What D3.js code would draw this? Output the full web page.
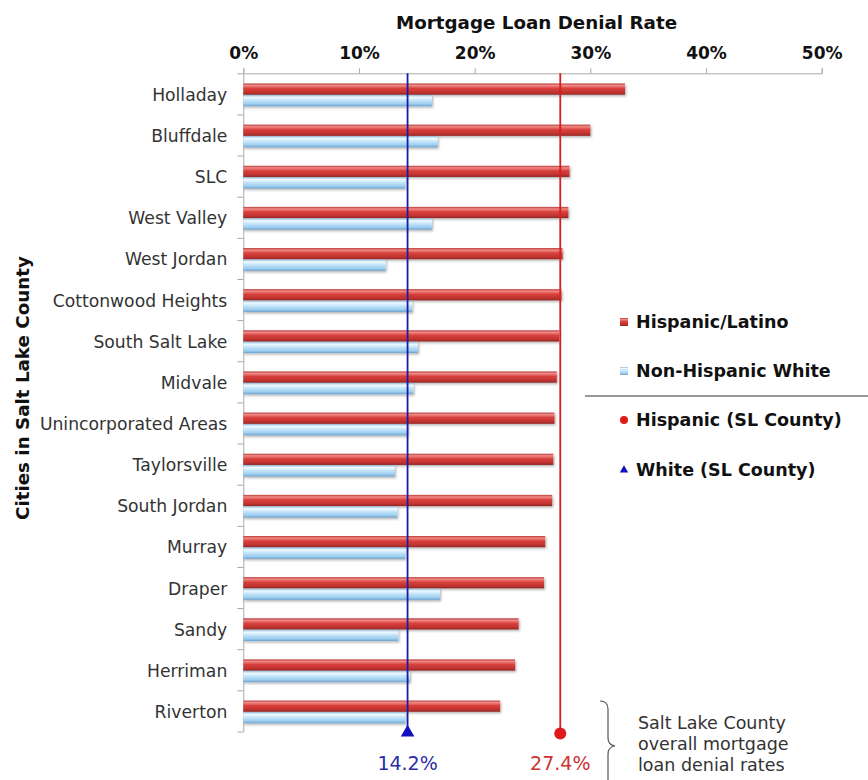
<!DOCTYPE html>
<html>
<head>
<meta charset="utf-8">
<script src="https://cdn.jsdelivr.net/npm/d3@7"></script>
<style>
  html, body { margin: 0; padding: 0; background: #fff; }
  svg { display: block; font-family: "DejaVu Sans", Verdana, sans-serif; }
</style>
</head>
<body>
<svg id="chart" width="868" height="780"></svg>
<script>
// Mortgage loan denial rates by city, Salt Lake County
const cities = ["Holladay", "Bluffdale", "SLC", "West Valley", "West Jordan",
  "Cottonwood Heights", "South Salt Lake", "Midvale", "Unincorporated Areas",
  "Taylorsville", "South Jordan", "Murray", "Draper", "Sandy", "Herriman", "Riverton"];
const hispanicRates = [33.0, 30.0, 28.2, 28.1, 27.6, 27.5, 27.3, 27.1, 26.9,
  26.8, 26.7, 26.1, 26.0, 23.8, 23.5, 22.2];
const whiteRates = [16.3, 16.8, 14.0, 16.3, 12.3, 14.6, 15.1, 14.7, 14.2,
  13.1, 13.3, 14.0, 17.0, 13.4, 14.4, 14.0];
const countyRates = { hispanic: 27.4, white: 14.2 };
const xTicks = [0, 10, 20, 30, 40, 50];
const seriesNames = ["Hispanic/Latino", "Non-Hispanic White"];
const refNames = ["Hispanic (SL County)", "White (SL County)"];
const noteLines = ["Salt Lake County", "overall mortgage", "loan denial rates"];

const svg = d3.select("#chart");
const plot = { left: 243.3, right: 821.7, top: 73.3, bottom: 731.5 };

const x = d3.scaleLinear().domain([0, 50]).range([plot.left, plot.right]);
const y = d3.scaleBand().domain(cities).range([plot.top, plot.bottom])
  .paddingInner(0.43).paddingOuter(0.215);
const ySub = d3.scaleBand().domain(["hisp", "white"]).range([0, y.bandwidth()]).padding(0.03);
const yEdge = d3.scaleLinear().domain([0, cities.length]).range([plot.top, plot.bottom]);

// gradients for the glossy bars
const defs = svg.append("defs");
function grad(id, stops) {
  const g = defs.append("linearGradient").attr("id", id)
    .attr("x1", 0).attr("y1", 0).attr("x2", 0).attr("y2", 1);
  stops.forEach(s => g.append("stop").attr("offset", s[0]).attr("stop-color", s[1]));
}
grad("gRed", [[0, "#b83a38"], [0.18, "#f08a86"], [0.45, "#d8403c"], [0.8, "#c03330"], [1, "#8e2624"]]);
grad("gBlue", [[0, "#8fb9dc"], [0.2, "#f0faff"], [0.5, "#bfe2fa"], [0.8, "#9ccdee"], [1, "#6c9fcc"]]);
const sh = defs.append("filter").attr("id", "shadow").attr("x", "-5%").attr("y", "-30%")
  .attr("width", "115%").attr("height", "180%");
sh.append("feDropShadow").attr("dx", 1.2).attr("dy", 1.5).attr("stdDeviation", 1)
  .attr("flood-color", "#000").attr("flood-opacity", 0.3);

// title
svg.append("text").attr("x", 536.5).attr("y", 29)
  .attr("text-anchor", "middle").attr("font-weight", "bold").attr("font-size", 18.3)
  .attr("fill", "#111").text("Mortgage Loan Denial Rate");

// top axis
const xAxis = svg.append("g").attr("transform", `translate(0,${plot.top})`)
  .call(d3.axisTop(x).tickValues(xTicks).tickFormat(d => d + "%").tickSize(5).tickPadding(9));
xAxis.select(".domain").attr("stroke", "#aaa");
xAxis.selectAll(".tick line").attr("stroke", "#aaa");
xAxis.selectAll("text").attr("font-size", 17).attr("font-weight", "bold").attr("fill", "#111")
  .attr("font-family", "DejaVu Sans, Verdana, sans-serif");

// left axis: boundary ticks and category labels
const edgeAxis = svg.append("g").attr("transform", `translate(${plot.left},0)`)
  .call(d3.axisLeft(yEdge).tickValues(d3.range(cities.length + 1)).tickFormat("").tickSize(6).tickSizeOuter(0));
edgeAxis.select(".domain").attr("stroke", "#aaa");
edgeAxis.selectAll(".tick line").attr("stroke", "#aaa");

const catAxis = svg.append("g").attr("transform", `translate(${plot.left},1.5)`)
  .call(d3.axisLeft(y).tickSize(0).tickPadding(16));
catAxis.select(".domain").remove();
catAxis.selectAll("text").attr("font-size", 17.2).attr("fill", "#333")
  .attr("font-family", "DejaVu Sans, Verdana, sans-serif");

// y title
svg.append("text").attr("transform", "translate(29,388) rotate(-90)")
  .attr("text-anchor", "middle").attr("font-weight", "bold").attr("font-size", 18.3)
  .attr("fill", "#111").text("Cities in Salt Lake County");

// bars
const rows = svg.append("g").selectAll("g").data(cities).join("g")
  .attr("transform", d => `translate(0,${y(d) + 1})`);
rows.append("rect")
  .attr("x", x(0)).attr("y", ySub("hisp"))
  .attr("width", (d, i) => x(hispanicRates[i]) - x(0)).attr("height", ySub.bandwidth())
  .attr("fill", "url(#gRed)").attr("filter", "url(#shadow)");
rows.append("rect")
  .attr("x", x(0)).attr("y", ySub("white"))
  .attr("width", (d, i) => x(whiteRates[i]) - x(0)).attr("height", ySub.bandwidth())
  .attr("fill", "url(#gBlue)").attr("filter", "url(#shadow)");

// county reference lines
const redC = "#d81e1e", blueC = "#1a1aa8";
svg.append("line").attr("x1", x(countyRates.hispanic)).attr("x2", x(countyRates.hispanic))
  .attr("y1", plot.top).attr("y2", plot.bottom + 2).attr("stroke", redC).attr("stroke-width", 1.8);
svg.append("line").attr("x1", x(countyRates.white)).attr("x2", x(countyRates.white))
  .attr("y1", plot.top).attr("y2", plot.bottom + 2).attr("stroke", blueC).attr("stroke-width", 1.8);
svg.append("circle").attr("cx", x(countyRates.hispanic)).attr("cy", plot.bottom + 2).attr("r", 6)
  .attr("fill", "#e01a1a");
svg.append("path").attr("d", d3.symbol(d3.symbolTriangle, 80)())
  .attr("transform", `translate(${x(countyRates.white)},${plot.bottom + 1})`).attr("fill", "#1010c0");
svg.append("text").attr("x", x(countyRates.white)).attr("y", 770).attr("text-anchor", "middle")
  .attr("font-size", 19).attr("fill", "#2c2ca8").text(countyRates.white.toFixed(1) + "%");
svg.append("text").attr("x", x(countyRates.hispanic)).attr("y", 770).attr("text-anchor", "middle")
  .attr("font-size", 19).attr("fill", "#cc3333").text(countyRates.hispanic.toFixed(1) + "%");

// legend
const lg = svg.append("g");
const lgY = [322, 371, 420, 470];
lg.append("rect").attr("x", 620).attr("y", lgY[0] - 4).attr("width", 8).attr("height", 8).attr("fill", "url(#gRed)");
lg.append("rect").attr("x", 620).attr("y", lgY[1] - 4).attr("width", 8).attr("height", 8).attr("fill", "url(#gBlue)");
lg.append("circle").attr("cx", 624).attr("cy", lgY[2]).attr("r", 4).attr("fill", "#e01a1a");
lg.append("path").attr("d", d3.symbol(d3.symbolTriangle, 30)())
  .attr("transform", `translate(624,${lgY[3]})`).attr("fill", "#1010c0");
lg.selectAll("text").data(seriesNames.concat(refNames)).join("text")
  .attr("x", 636).attr("y", (d, i) => lgY[i]).attr("dy", "0.36em")
  .attr("font-size", 17.5).attr("font-weight", "bold").attr("fill", "#111").text(d => d);
lg.append("line").attr("x1", 585).attr("x2", 868).attr("y1", 396).attr("y2", 396)
  .attr("stroke", "#777").attr("stroke-width", 1.3);

// brace and note
svg.append("path")
  .attr("d", "M600,701 Q608,701 608,709 L608,738 Q608,745 615,746 Q608,747 608,754 L608,782")
  .attr("fill", "none").attr("stroke", "#555").attr("stroke-width", 1.2);
svg.append("g").selectAll("text").data(noteLines).join("text")
  .attr("x", 638).attr("y", (d, i) => 729 + i * 21)
  .attr("font-size", 17.5).attr("fill", "#333").text(d => d);
</script>
</body>
</html>
